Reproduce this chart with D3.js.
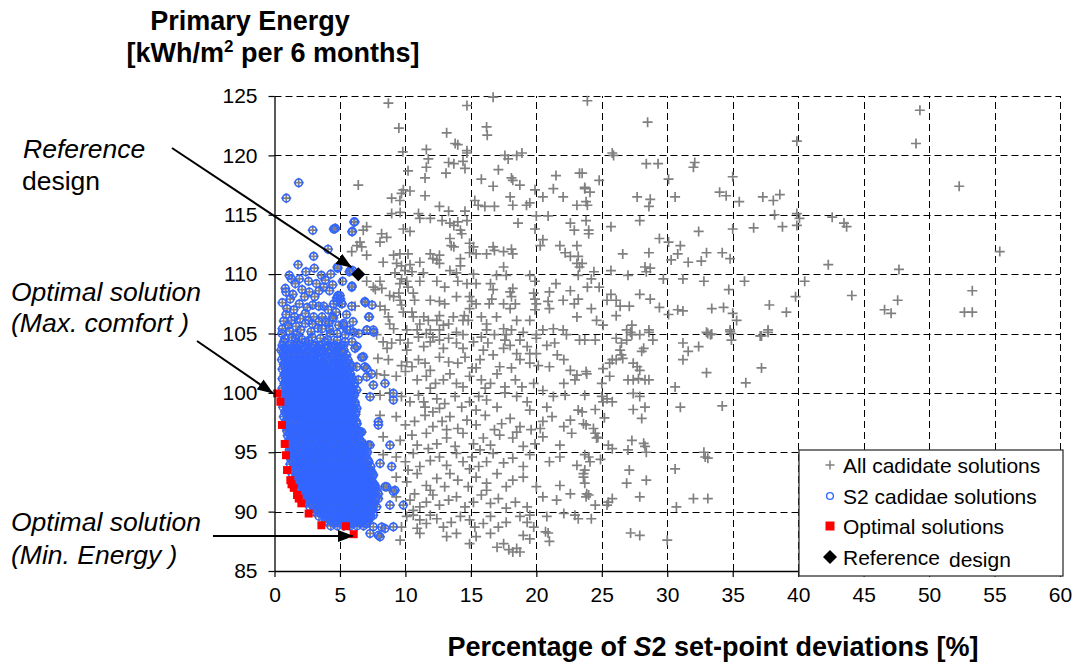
<!DOCTYPE html>
<html>
<head>
<meta charset="utf-8">
<script src="https://cdn.jsdelivr.net/npm/d3@7"></script>
<style>
  body { margin: 0; background: #fff; }
  svg { display: block; font-family: "Liberation Sans", Arial, sans-serif; }
</style>
</head>
<body>
<div id="chart"></div>
<script>
// axis ticks
var xTicks = [0, 5, 10, 15, 20, 25, 30, 35, 40, 45, 50, 55, 60];
var yTicks = [85, 90, 95, 100, 105, 110, 115, 120, 125];

// all candidate solutions (grey crosses), [deviation %, energy]
var allCandidates = [
  // upper part, 4..24 %
  [8.7,124.4],[16.7,124.9],[14.7,124.2],[9.5,122.3],[16.2,122.4],[16.25,121.7],[13.15,121.9],[13.8,121.0],[14.0,120.9],
  [14.7,120.4],[14.7,120.2],[11.6,120.5],[9.8,120.3],[17.6,120.0],[17.85,119.7],[18.5,120.0],[18.9,120.2],[11.75,119.7],
  [11.6,119.0],[13.3,119.4],[13.7,119.3],[14.4,119.5],[14.55,118.9],[10.2,118.7],[13.1,118.5],[17.1,118.8],[23.3,118.5],
  [21.5,118.3],[18.1,118.1],[18.2,117.9],[11.5,118.1],[15.8,118.0],[16.7,117.4],[6.4,117.5],[18.74,117.5],[19.9,117.1],
  [21.3,117.2],[23.7,117.2],[24.1,116.9],[9.84,117.1],[10.35,117.0],[9.7,116.8],[11.5,116.6],[8.95,116.4],[9.58,116.2],
  [15.3,116.2],[15.56,115.8],[16.07,115.7],[18.0,116.5],[18.2,115.8],[19.5,116.0],[20.5,116.5],[22.05,116.5],[23.1,115.8],
  [12.6,115.7],[19.25,115.8],[16.8,115.7],[13.3,115.3],[14.55,115.3],[8.95,115.1],[9.6,115.2],[11.0,115.1],[11.1,114.7],
  [11.9,114.7],[12.8,114.5],[13.4,114.3],[14.0,114.4],[13.7,114.1],[14.7,114.5],[18.6,114.3],[20.0,114.9],[20.9,114.9],
  [22.6,114.3],[22.9,113.7],[23.8,114.5],[24.0,113.7],[7.04,114.0],[6.78,113.7],[8.18,113.4],[8.57,113.1],[9.84,113.8],
  [10.35,113.6],[14.2,113.7],[14.3,113.4],[19.9,113.8],[13.4,113.0],[13.5,112.4],[13.7,112.3],[6.53,112.7],[6.3,112.4],
  [6.66,112.3],[8.06,112.7],[14.9,112.6],[15.2,112.3],[16.7,112.3],[16.8,112.0],[17.5,111.9],[18.1,112.1],[18.2,111.7],
  [20.3,112.4],[20.5,112.9],[21.8,112.4],[23.1,112.4],[23.2,111.5],[22.2,111.8],[22.6,111.5],[5.9,111.9],[7.04,111.6],
  [9.1,111.6],[9.58,111.7],[10.2,111.7],[11.9,111.7],[12.6,111.6],[12.1,111.3],[14.2,111.3],[14.9,111.8],[15.4,111.7],
  [16.2,111.7],[8.3,111.0],[9.33,110.9],[9.7,110.7],[9.96,110.3],[10.35,110.8],[10.5,110.2],[11.1,111.0],[12.6,110.9],
  [12.4,111.2],[14.2,110.7],[23.1,110.9],[23.3,110.6],[11.37,110.1],[13.4,110.3],[13.9,110.1],[15.2,110.0],[15.4,109.2],
  [16.96,109.9],[17.5,110.6],[17.7,109.9],[19.5,109.9],[19.9,109.4],[21.5,109.2],[23.2,109.9],[7.04,109.4],[7.55,108.9],
  [8.06,109.4],[8.2,108.8],[9.2,110.1],[9.7,109.6],[9.58,109.2],[10.1,109.4],[10.2,108.9],[11.1,109.4],[12.4,109.4],
  [13.0,108.9],[14.0,109.4],[14.7,109.2],[16.5,109.2],[16.7,108.7],[18.0,108.5],[18.2,108.8],[18.1,108.1],[19.8,108.4],
  [19.9,107.9],[21.0,108.5],[22.6,108.6],[7.7,108.7],[8.8,108.2],[9.1,108.1],[9.5,108.4],[9.6,107.8],[10.6,108.4],
  [10.7,107.8],[11.9,107.8],[12.6,107.7],[13.0,107.5],[13.9,108.1],[14.9,108.1],[15.06,107.7],[15.4,107.5],[14.9,107.1],
  [14.5,106.5],[14.4,106.1],[14.8,106.1],[16.6,107.9],[16.4,107.5],[17.5,107.5],[18.0,107.1],[18.4,107.5],[20.0,107.5],
  [19.9,107.0],[20.9,107.7],[21.0,107.1],[22.05,107.8],[22.9,107.5],[23.2,107.9],[6.15,107.3],[8.06,107.3],[8.44,107.0],
  [8.7,106.4],[9.7,107.4],[9.84,106.8],[10.5,106.8],[10.6,106.4],[11.4,106.4],[11.75,106.1],[11.1,105.8],[12.6,106.5],
  [12.4,106.1],[12.9,105.7],[13.3,105.8],[13.66,106.4],[15.8,106.4],[16.2,105.8],[16.96,106.4],[18.5,106.1],[19.5,106.1],
  [21.3,105.4],[22.05,105.3],[23.1,106.4],[8.8,105.8],[9.1,105.4],[10.1,105.3],[10.9,105.3],[11.9,105.3],[12.6,105.3],
  [12.1,104.7],[17.5,105.4],[17.7,104.9],[18.1,105.3],[19.0,105.1],[20.0,104.9],[20.5,105.3],[16.2,105.3],[13.9,105.1],
  // upper part, 23..43 %
  [23.9,124.6],[28.5,122.8],[39.9,121.2],[25.8,120.2],[25.9,120.0],[28.4,119.3],[29.3,119.3],[32.1,119.4],[32.0,119.0],
  [23.5,118.5],[24.8,117.9],[30.1,118.0],[35.0,118.2],[23.7,117.3],[27.7,116.5],[28.7,116.3],[28.6,115.7],[30.6,116.5],
  [34.0,116.9],[34.5,116.6],[35.5,116.1],[37.3,116.5],[38.1,116.2],[38.6,116.7],[23.8,116.1],[23.9,115.8],[38.2,115.0],
  [39.9,115.1],[40.1,114.7],[39.9,114.1],[38.8,114.0],[36.6,113.9],[35.0,113.8],[32.4,113.6],[25.7,114.0],[27.9,114.5],
  [24.0,113.4],[29.4,113.0],[30.1,112.7],[31.0,112.4],[30.8,111.7],[26.6,111.7],[28.6,111.8],[30.3,111.2],[31.6,111.0],
  [32.6,111.1],[33.0,111.8],[34.2,111.8],[34.8,111.3],[42.3,110.8],[23.5,110.9],[24.4,110.2],[24.2,109.6],[25.7,110.3],
  [27.0,109.9],[28.3,110.6],[28.7,110.5],[28.4,110.2],[29.7,109.6],[31.2,109.6],[32.8,109.4],[35.9,109.4],[34.7,108.7],
  [40.5,109.4],[39.8,108.1],[23.9,108.9],[24.8,108.9],[25.7,108.3],[25.4,107.8],[26.1,107.8],[27.9,108.3],[28.7,107.9],
  [26.4,107.3],[27.1,107.3],[29.4,107.2],[24.2,107.1],[30.1,106.6],[30.8,107.0],[31.2,106.9],[33.4,107.1],[34.3,107.2],
  [35.0,106.7],[35.3,106.1],[37.8,107.4],[39.1,106.8],[26.1,106.5],[24.6,106.1],[25.1,105.7],[27.3,105.7],[26.9,105.3],
  [28.6,105.3],[33.0,105.1],[33.3,104.9],[34.8,105.3],[34.9,105.0],[37.7,105.3],[37.1,104.8],
  // upper part, beyond 42 %
  [49.3,123.8],[49.0,121.0],[52.3,117.4],[42.6,114.8],[43.5,114.3],[43.7,114.0],[55.4,111.9],[47.7,110.4],[44.1,108.2],
  [47.6,107.8],[46.6,107.0],[47.1,106.7],[53.3,108.6],[52.7,106.8],[53.3,106.8],
  // lower part, 4..24 %
  [7.8,104.9],[8.3,104.3],[8.95,104.2],[9.6,104.45],[10.2,104.2],[11.0,104.7],[11.6,105.0],[11.9,104.3],[12.6,104.45],
  [13.3,104.6],[13.9,104.2],[14.4,104.9],[15.2,104.3],[15.8,104.7],[16.3,104.2],[16.8,104.9],[17.6,104.45],[18.0,104.0],
  [18.75,104.45],[19.3,103.9],[20.0,104.6],[20.8,104.0],[21.4,104.2],[22.3,104.9],[23.3,104.45],[20.0,103.3],[19.5,103.3],
  [21.6,103.2],[22.1,102.8],[17.5,103.75],[15.95,103.6],[14.4,103.75],[12.9,103.75],[11.4,103.9],[10.1,103.6],[8.6,103.75],
  [7.9,102.9],[8.7,102.8],[9.7,102.3],[10.1,102.6],[10.5,102.2],[11.0,102.8],[11.5,102.5],[11.9,101.9],[12.6,103.0],
  [13.3,102.6],[14.0,102.5],[14.55,103.0],[15.1,102.1],[15.7,102.8],[16.7,103.2],[17.2,102.2],[18.1,102.1],[18.75,102.8],
  [19.5,102.5],[20.15,102.3],[21.0,102.2],[22.6,101.9],[23.1,101.5],[23.8,101.8],[15.4,102.1],[18.5,103.3],
  [7.8,101.6],[8.4,101.5],[9.3,101.4],[10.0,101.8],[10.9,101.1],[11.6,101.4],[12.3,100.8],[12.9,101.1],[13.4,101.6],
  [13.9,100.8],[14.4,100.5],[14.9,101.4],[15.8,101.1],[16.5,100.8],[17.0,101.6],[17.6,100.5],[18.4,101.1],[18.9,100.5],
  [19.8,100.8],[20.5,100.2],[22.1,100.8],[22.95,101.1],[16.1,100.4],[11.9,100.4],
  [8.06,99.8],[8.8,100.0],[9.7,99.7],[10.35,99.25],[11.0,99.8],[11.5,98.8],[12.4,99.5],[13.0,99.1],[13.8,99.7],
  [14.3,98.8],[14.9,99.25],[15.6,99.7],[16.2,99.4],[17.0,98.8],[17.6,100.0],[18.5,99.7],[19.3,99.25],[19.5,98.55],
  [20.8,98.8],[21.3,99.7],[22.2,99.8],[23.2,98.55],[11.4,99.25],[12.6,98.7],[15.4,98.55],
  [8.06,98.1],[9.3,98.0],[10.0,97.3],[10.7,97.6],[11.5,98.1],[12.1,97.15],[12.8,97.6],[13.4,98.0],[14.0,97.0],
  [14.7,97.7],[15.4,97.3],[16.1,98.1],[16.8,96.9],[17.35,97.4],[18.0,97.85],[18.75,97.15],[19.6,96.9],[20.5,97.6],
  [21.2,98.0],[22.1,97.15],[22.6,97.7],[23.8,97.3],[12.1,98.4],[13.15,96.9],[20.3,97.0],
  [8.3,96.3],[9.6,96.0],[10.5,96.45],[10.9,95.6],[11.6,96.6],[12.4,95.7],[13.15,96.2],[13.8,95.5],[14.4,96.6],
  [15.2,95.7],[15.95,96.2],[16.5,95.6],[17.2,96.45],[18.2,96.2],[19.0,95.5],[19.9,95.7],[20.5,96.3],[21.8,95.6],
  [22.7,96.6],[11.75,95.3],[15.7,95.2],[18.5,96.7],
  [8.3,94.8],[9.3,94.6],[10.0,94.2],[10.6,94.9],[11.1,93.8],[11.9,94.3],[12.6,94.6],[13.15,93.9],[13.9,94.9],
  [14.4,94.2],[15.1,94.6],[15.6,93.8],[16.2,94.2],[16.7,94.9],[17.5,94.1],[18.2,94.5],[19.0,93.8],[19.5,94.8],
  [21.0,94.2],[21.8,94.6],[23.1,93.9],[23.7,93.5],[10.2,93.5],[14.9,93.6],
  [9.3,92.9],[10.1,92.5],[10.9,93.2],[11.6,92.2],[12.4,92.8],[13.0,92.1],[13.4,93.2],[14.0,92.65],[14.8,92.1],
  [15.4,92.9],[16.2,92.4],[17.0,93.2],[17.7,92.1],[18.2,92.65],[19.0,92.9],[20.0,92.1],[21.8,92.2],[23.6,92.9],
  [11.9,91.8],[16.2,91.8],
  [9.3,91.25],[10.35,90.97],[10.7,91.5],[11.1,90.4],[11.6,90.8],[12.1,91.4],[12.6,90.55],[13.3,90.97],[13.9,91.25],
  [14.55,90.4],[15.2,90.8],[15.8,91.4],[16.5,90.7],[17.1,91.1],[17.7,90.3],[18.4,90.8],[19.3,90.4],[20.5,91.25],
  [21.55,90.97],[22.6,91.5],[23.8,91.25],[10.6,90.1],
  [10.1,89.6],[10.6,89.7],[11.1,89.3],[11.6,89.0],[11.9,89.7],[12.4,89.4],[12.9,88.7],[13.5,89.1],[14.2,89.6],
  [14.9,89.3],[15.3,88.7],[15.95,89.0],[16.5,89.6],[17.1,88.7],[17.7,89.1],[18.75,89.6],[19.3,89.1],[19.8,88.7],
  [20.8,89.6],[22.1,89.85],[22.95,89.7],[23.2,89.4],[19.5,89.7],[9.7,88.7],[10.9,88.6],
  [9.6,87.6],[11.1,88.16],[13.15,87.9],[13.9,88.16],[14.9,87.3],[15.4,87.9],[16.5,88.16],[17.0,87.0],[17.5,87.3],
  [17.9,86.8],[18.2,86.6],[18.5,86.9],[18.75,86.6],[19.5,87.7],[20.7,88.3],[20.9,88.2],[21.0,87.5],[19.0,88.0],
  // lower part, 23..43 %
  [23.7,104.45],[24.5,104.45],[26.1,104.6],[26.5,104.2],[26.9,104.45],[27.3,104.9],[27.9,104.9],[28.6,105.1],[27.2,105.1],
  [26.4,103.6],[26.5,103.2],[26.6,102.9],[26.1,102.8],[25.8,102.8],[25.6,102.5],[28.05,103.5],[28.2,103.75],[28.9,104.45],
  [27.4,102.5],[27.7,102.2],[27.9,101.9],[25.1,102.05],[25.0,100.8],[25.6,101.4],[23.85,101.6],[27.0,101.1],[27.4,101.1],
  [27.8,101.2],[28.3,101.1],[28.6,101.1],[31.2,104.2],[31.6,103.5],[32.4,103.9],[31.2,102.8],[33.0,101.7],[33.1,105.0],
  [33.4,104.95],[34.8,105.15],[34.9,104.45],[37.2,104.8],[37.7,105.1],[37.2,102.1],[36.0,100.85],[30.6,100.5],
  [23.7,99.8],[25.0,99.7],[25.4,99.5],[25.8,99.25],[25.1,99.25],[27.4,99.95],[27.9,99.7],[24.5,98.6],[23.5,98.4],
  [27.4,98.6],[28.3,98.8],[31.0,98.8],[34.2,98.9],[25.2,97.9],[28.05,97.85],[23.6,97.4],[24.36,97.0],[24.5,96.6],
  [24.7,96.25],[24.6,96.2],[27.3,96.0],[28.2,95.75],[28.3,95.5],[25.5,95.6],[25.8,95.3],[27.0,95.2],[28.4,95.0],
  [23.7,94.8],[24.1,94.2],[24.0,94.6],[24.9,94.4],[32.8,95.0],[32.9,94.6],[33.1,94.5],[27.1,93.5],[30.6,93.6],
  [28.4,92.65],[26.9,92.4],[23.6,93.2],[23.7,92.4],[23.85,91.5],[24.0,91.4],[25.8,91.1],[25.5,90.8],[25.4,90.55],
  [24.5,90.55],[27.9,91.25],[30.7,90.4],[32.0,91.1],[33.1,91.1],[24.2,89.4],[27.2,88.2],[27.9,88.0],[30.0,87.6]
];

// S2 candidate solutions (blue circles), the loose ones round the cluster
var s2Candidates = [
  [1.85,117.7],[0.9,116.4],[2.92,113.7],[4.65,113.85],[4.52,113.8],[6.13,114.4],[5.92,113.57],[4.09,112.1],[2.99,111.5],
  [1.8,110.8],[3.04,110.5],[4.83,110.5],[5.8,110.3],[5.97,110.3],[1.13,109.9],[1.29,109.6],[1.9,109.6],[1.59,109.2],
  [3.58,109.9],[3.88,109.5],[4.44,109.1],[3.76,108.9],[0.83,108.8],[0.88,108.5],[2.1,108.7],[2.66,108.5],[2.3,108.1],
  [5.92,109.0],[4.85,108.2],[5.03,107.9],[4.78,107.7],[4.52,107.5],[5.16,107.5],[3.07,108.1],[3.38,107.3],[2.92,107.4],
  [3.76,107.3],[6.94,107.6],[7.45,107.4],[0.96,107.1],[1.47,107.0],[0.88,106.6],[1.54,106.4],[1.03,105.7],[1.64,105.6],
  [2.36,106.7],[2.61,106.1],[2.99,106.4],[2.36,105.85],[3.63,106.4],[3.38,106.0],[4.44,106.4],[4.14,105.85],[3.63,105.4],
  [7.2,106.4],[4.9,105.7],[5.28,105.85],[5.54,105.3],[6.05,105.1],[6.43,105.0],[5.41,104.9],[4.78,105.0],[7.07,105.3],
  [7.58,105.1],[0.57,105.0],[0.7,104.3],[1.34,104.7],[1.72,104.2],[2.36,104.3],[2.87,104.7],[3.12,104.0],[3.88,104.3],
  [4.27,105.0],[4.39,103.9],[5.92,104.3],[6.3,103.9],[5.28,104.0],[4.62,113.85],[6.07,114.4],[5.95,113.6],[4.8,110.6],
  [5.72,110.2],[5.9,108.9],[5.0,108.2],[4.75,108.0],[5.13,107.5],[6.9,107.7],[7.24,106.4],[7.04,105.3],[7.55,105.3],
  [4.5,106.3],[5.26,105.7],[5.77,105.3],
  [0.8,104.55],[1.6,104.6],[2.1,104.5],[2.6,104.4],[3.5,104.6],[4.05,104.5],[4.8,104.45],[0.6,105.4],[1.15,105.2],
  [2.0,105.3],[2.8,105.15],[3.3,105.45],[4.2,105.4],[0.7,106.05],[1.3,106.1],[1.95,106.25],[2.9,105.8],[3.9,106.0],
  [4.7,106.8],[0.6,107.6],[1.2,107.9],[1.9,107.5],[2.5,107.2],[4.1,107.0],[5.5,106.6],[6.0,106.0],[5.9,107.3],
  [1.4,108.3],[3.4,108.6],[4.2,108.6],[2.6,109.4],[3.2,109.2],[4.3,110.0],[2.4,110.2],[5.2,109.4],[1.7,104.9],
  // right hand edge and tail of the cluster
  [5.4,104.3],[6.15,103.75],[6.66,103.0],[6.28,102.2],[6.9,102.2],[7.04,101.36],[6.4,101.1],[7.55,100.66],[8.44,100.8],
  [9.08,99.96],[9.08,99.4],[7.3,99.67],[6.28,100.24],[6.28,98.7],[7.93,97.57],[7.93,97.3],[6.0,96.7],[6.66,96.7],
  [5.26,96.3],[7.17,95.6],[8.82,95.6],[8.06,94.06],[8.95,93.8],[7.55,93.1],[8.44,92.1],[9.2,91.8],[7.93,91.1],
  [8.82,90.55],[9.84,90.55],[7.3,88.16],[8.06,87.88],[8.44,88.58],[9.08,88.72],[7.55,88.72],[6.8,93.5],[7.04,92.1],
  [7.68,92.2],[7.93,91.5],[6.66,91.25],[7.04,90.4],[7.55,89.7],[7.93,88.0],[8.19,88.7],[7.04,89.0],[5.9,89.0],[6.4,89.3],
  [7.04,102.06],[7.42,101.6],[6.79,103.04],[6.53,96.7],[6.28,96.86],[7.3,95.6],[8.57,92.1],[9.08,91.7]
];

// the packed S2 cluster, read row by row: [energy, [deviations]]
var s2Cluster = [
  [104.0, [0.6, 1.05, 1.5, 1.9, 2.5, 3.0, 3.45, 4.1, 4.6, 5.1]],
  [103.8, [0.75, 1.25, 1.7, 2.3, 2.8, 3.3, 3.8, 4.4, 4.9]],
  [103.6, [0.5, 0.85, 1.3, 1.7, 2.15, 2.6, 3.2, 3.6, 4.3, 4.8, 5.3]],
  [103.4, [0.65, 1.05, 1.5, 1.95, 2.4, 2.9, 3.4, 3.75, 4.1, 4.7, 5.2]],
  [103.2, [0.7, 1.1, 1.45, 1.9, 2.3, 2.75, 3.1, 3.9, 4.5, 4.9, 5.5]],
  [103.0, [0.75, 1.1, 1.5, 1.85, 2.25, 2.65, 3.05, 3.5, 3.95, 4.4, 4.85, 5.35]],
  [102.8, [0.55, 0.9, 1.3, 1.65, 2.05, 2.45, 2.9, 3.3, 4.2, 4.65, 5.1, 5.6]],
  [102.6, [0.85, 1.2, 1.6, 2.0, 2.4, 2.8, 3.2, 3.65, 4.05, 4.6, 5.05, 5.5]],
  [102.4, [0.7, 1.05, 1.4, 1.8, 2.2, 2.6, 3.0, 3.45, 3.85, 4.4, 4.85, 5.3, 5.8]],
  [102.2, [0.8, 1.15, 1.5, 1.85, 2.2, 2.6, 3.0, 3.4, 3.8, 4.2, 4.6, 5.0, 5.45, 5.9]],
  [102.0, [0.6, 0.95, 1.3, 1.65, 2.0, 2.4, 2.8, 3.2, 3.6, 4.0, 4.4, 4.8, 5.2, 5.65]],
  [101.8, [0.9, 1.25, 1.6, 1.95, 2.35, 2.75, 3.15, 3.55, 3.95, 4.35, 4.75, 5.15, 5.6]],
  [101.6, [0.75, 1.1, 1.45, 1.8, 2.15, 2.55, 2.95, 3.35, 3.75, 4.15, 4.55, 4.95, 5.35, 5.8]],
  [101.4, [0.8, 1.15, 1.5, 1.85, 2.2, 2.55, 2.95, 3.35, 3.75, 4.15, 4.55, 4.95, 5.35, 5.75]],
  [101.2, [0.6, 0.95, 1.3, 1.65, 2.0, 2.35, 2.75, 3.1, 3.5, 3.9, 4.3, 4.7, 5.1, 5.5, 5.95]],
  [101.0, [0.9, 1.25, 1.6, 2.0, 2.35, 2.7, 3.1, 3.5, 3.9, 4.3, 4.7, 5.1, 5.5, 5.9]],
  [100.8, [0.75, 1.1, 1.45, 1.8, 2.2, 2.55, 2.9, 3.3, 3.7, 4.1, 4.5, 4.9, 5.3, 5.7, 6.1]],
  [100.6, [0.8, 1.15, 1.5, 1.85, 2.2, 2.6, 2.95, 3.3, 3.7, 4.1, 4.5, 4.9, 5.3, 5.7, 6.05]],
  [100.4, [0.6, 0.95, 1.3, 1.65, 2.0, 2.4, 2.75, 3.1, 3.5, 3.9, 4.3, 4.7, 5.1, 5.5, 5.9]],
  [100.2, [0.9, 1.25, 1.6, 2.0, 2.35, 2.75, 3.1, 3.5, 3.9, 4.3, 4.7, 5.1, 5.5, 5.9]],
  [100.0, [0.75, 1.1, 1.45, 1.85, 2.2, 2.55, 2.95, 3.3, 3.7, 4.1, 4.5, 4.9, 5.3, 5.7, 6.1]],
  [99.8, [0.85, 1.2, 1.55, 1.9, 2.25, 2.6, 3.0, 3.35, 3.75, 4.15, 4.55, 4.95, 5.35, 5.75, 6.1]],
  [99.6, [0.65, 1.0, 1.35, 1.7, 2.05, 2.4, 2.8, 3.15, 3.55, 3.95, 4.35, 4.75, 5.15, 5.55, 5.95]],
  [99.4, [0.95, 1.3, 1.65, 2.0, 2.4, 2.75, 3.15, 3.55, 3.95, 4.35, 4.75, 5.15, 5.55, 5.95]],
  [99.2, [0.8, 1.15, 1.5, 1.85, 2.2, 2.6, 2.95, 3.35, 3.75, 4.15, 4.55, 4.95, 5.35, 5.75, 6.15]],
  [99.0, [0.85, 1.2, 1.55, 1.9, 2.25, 2.6, 3.0, 3.4, 3.8, 4.2, 4.6, 5.0, 5.4, 5.8, 6.15]],
  [98.8, [0.65, 1.0, 1.35, 1.7, 2.05, 2.45, 2.8, 3.2, 3.6, 4.0, 4.4, 4.8, 5.2, 5.6, 6.0]],
  [98.6, [0.95, 1.3, 1.7, 2.05, 2.45, 2.8, 3.2, 3.6, 4.0, 4.4, 4.8, 5.2, 5.6, 6.0]],
  [98.4, [0.8, 1.15, 1.5, 1.9, 2.25, 2.6, 3.0, 3.4, 3.8, 4.2, 4.6, 5.0, 5.4, 5.8, 6.2]],
  [98.2, [0.9, 1.25, 1.6, 1.95, 2.3, 2.65, 3.05, 3.45, 3.85, 4.25, 4.65, 5.05, 5.45, 5.85, 6.2]],
  [98.0, [0.7, 1.05, 1.4, 1.75, 2.1, 2.45, 2.85, 3.25, 3.65, 4.05, 4.45, 4.85, 5.25, 5.65, 6.05]],
  [97.8, [1.0, 1.35, 1.75, 2.1, 2.5, 2.85, 3.25, 3.65, 4.05, 4.45, 4.85, 5.25, 5.65, 6.05]],
  [97.6, [0.85, 1.2, 1.55, 1.9, 2.3, 2.65, 3.05, 3.45, 3.85, 4.25, 4.65, 5.05, 5.45, 5.85, 6.25]],
  [97.4, [1.0, 1.35, 1.7, 2.05, 2.4, 2.75, 3.15, 3.55, 3.95, 4.35, 4.75, 5.15, 5.55, 5.95, 6.3]],
  [97.2, [0.8, 1.15, 1.5, 1.85, 2.2, 2.55, 2.95, 3.35, 3.75, 4.15, 4.55, 4.95, 5.35, 5.75, 6.15]],
  [97.0, [1.1, 1.45, 1.85, 2.2, 2.6, 2.95, 3.35, 3.75, 4.15, 4.55, 4.95, 5.35, 5.75, 6.15]],
  [96.8, [0.95, 1.3, 1.65, 2.0, 2.4, 2.75, 3.15, 3.55, 3.95, 4.35, 4.75, 5.15, 5.55, 5.95, 6.35]],
  [96.6, [1.15, 1.5, 1.85, 2.25, 2.6, 3.0, 3.4, 3.8, 4.2, 4.6, 5.0, 5.4, 5.8, 6.2, 6.5]],
  [96.4, [1.0, 1.35, 1.7, 2.05, 2.4, 2.8, 3.2, 3.6, 4.0, 4.4, 4.8, 5.2, 5.6, 6.0, 6.4]],
  [96.2, [1.25, 1.6, 1.95, 2.35, 2.75, 3.15, 3.55, 3.95, 4.35, 4.75, 5.15, 5.55, 5.95, 6.35]],
  [96.0, [1.1, 1.45, 1.8, 2.15, 2.55, 2.95, 3.35, 3.75, 4.15, 4.55, 4.95, 5.35, 5.75, 6.15, 6.55]],
  [95.8, [1.2, 1.6, 1.95, 2.3, 2.7, 3.1, 3.5, 3.9, 4.3, 4.7, 5.1, 5.5, 5.9, 6.3, 6.7]],
  [95.6, [1.05, 1.4, 1.75, 2.1, 2.5, 2.9, 3.3, 3.7, 4.1, 4.5, 4.9, 5.3, 5.7, 6.1, 6.5, 6.85]],
  [95.4, [1.3, 1.65, 2.05, 2.4, 2.8, 3.2, 3.6, 4.0, 4.4, 4.8, 5.2, 5.6, 6.0, 6.4, 6.8]],
  [95.2, [1.15, 1.5, 1.85, 2.2, 2.6, 3.0, 3.4, 3.8, 4.2, 4.6, 5.0, 5.4, 5.8, 6.2, 6.6, 6.95]],
  [95.0, [1.3, 1.65, 2.0, 2.35, 2.75, 3.15, 3.55, 3.95, 4.35, 4.75, 5.15, 5.55, 5.95, 6.35, 6.75, 7.1]],
  [94.8, [1.1, 1.45, 1.8, 2.15, 2.55, 2.95, 3.35, 3.75, 4.15, 4.55, 4.95, 5.35, 5.75, 6.15, 6.55, 6.95]],
  [94.6, [1.4, 1.8, 2.15, 2.5, 2.9, 3.3, 3.7, 4.1, 4.5, 4.9, 5.3, 5.7, 6.1, 6.5, 6.9]],
  [94.4, [1.25, 1.6, 1.95, 2.3, 2.7, 3.1, 3.5, 3.9, 4.3, 4.7, 5.1, 5.5, 5.9, 6.3, 6.7, 7.1]],
  [94.2, [1.4, 1.75, 2.1, 2.45, 2.85, 3.25, 3.65, 4.05, 4.45, 4.85, 5.25, 5.65, 6.05, 6.45, 6.85, 7.2]],
  [94.0, [1.2, 1.55, 1.9, 2.25, 2.65, 3.05, 3.45, 3.85, 4.25, 4.65, 5.05, 5.45, 5.85, 6.25, 6.65, 7.05]],
  [93.8, [1.5, 1.85, 2.25, 2.6, 3.0, 3.4, 3.8, 4.2, 4.6, 5.0, 5.4, 5.8, 6.2, 6.6, 7.0, 7.35]],
  [93.6, [1.35, 1.7, 2.05, 2.4, 2.8, 3.2, 3.6, 4.0, 4.4, 4.8, 5.2, 5.6, 6.0, 6.4, 6.8, 7.2]],
  [93.4, [1.55, 1.9, 2.25, 2.65, 3.05, 3.45, 3.85, 4.25, 4.65, 5.05, 5.45, 5.85, 6.25, 6.65, 7.05, 7.4]],
  [93.2, [1.35, 1.7, 2.05, 2.45, 2.85, 3.25, 3.65, 4.05, 4.45, 4.85, 5.25, 5.65, 6.05, 6.45, 6.85, 7.25]],
  [93.0, [1.7, 2.05, 2.45, 2.8, 3.2, 3.6, 4.0, 4.4, 4.8, 5.2, 5.6, 6.0, 6.4, 6.8, 7.2, 7.5]],
  [92.8, [1.55, 1.9, 2.25, 2.6, 3.0, 3.4, 3.8, 4.2, 4.6, 5.0, 5.4, 5.8, 6.2, 6.6, 7.0, 7.4]],
  [92.6, [1.85, 2.2, 2.6, 3.0, 3.4, 3.8, 4.2, 4.6, 5.0, 5.4, 5.8, 6.2, 6.6, 7.0, 7.4]],
  [92.4, [1.7, 2.05, 2.4, 2.8, 3.2, 3.6, 4.0, 4.4, 4.8, 5.2, 5.6, 6.0, 6.4, 6.8, 7.2, 7.55]],
  [92.2, [2.05, 2.4, 2.8, 3.2, 3.6, 4.0, 4.4, 4.8, 5.2, 5.6, 6.0, 6.4, 6.8, 7.2, 7.55]],
  [92.0, [1.9, 2.25, 2.6, 3.0, 3.4, 3.8, 4.2, 4.6, 5.0, 5.4, 5.8, 6.2, 6.6, 7.0, 7.4, 7.7]],
  [91.8, [2.2, 2.6, 3.0, 3.4, 3.8, 4.2, 4.6, 5.0, 5.4, 5.8, 6.2, 6.6, 7.0, 7.4, 7.8]],
  [91.6, [2.05, 2.4, 2.8, 3.2, 3.6, 4.0, 4.4, 4.8, 5.2, 5.6, 6.0, 6.4, 6.8, 7.2, 7.6]],
  [91.4, [2.4, 2.75, 3.15, 3.55, 3.95, 4.35, 4.75, 5.15, 5.55, 5.95, 6.35, 6.75, 7.15, 7.55]],
  [91.2, [2.2, 2.55, 2.95, 3.35, 3.75, 4.15, 4.55, 4.95, 5.35, 5.75, 6.15, 6.55, 6.95, 7.35, 7.75]],
  [91.0, [2.55, 2.95, 3.35, 3.75, 4.15, 4.55, 4.95, 5.35, 5.75, 6.15, 6.55, 6.95, 7.35, 7.7]],
  [90.8, [2.4, 2.75, 3.15, 3.55, 3.95, 4.35, 4.75, 5.15, 5.55, 5.95, 6.35, 6.75, 7.15, 7.55]],
  [90.6, [2.85, 3.25, 3.65, 4.05, 4.45, 4.85, 5.25, 5.65, 6.05, 6.45, 6.85, 7.25, 7.6]],
  [90.4, [2.7, 3.05, 3.45, 3.85, 4.25, 4.65, 5.05, 5.45, 5.85, 6.25, 6.65, 7.05, 7.45, 7.8]],
  [90.2, [3.2, 3.55, 3.95, 4.35, 4.75, 5.15, 5.55, 5.95, 6.35, 6.75, 7.15, 7.5]],
  [90.0, [3.0, 3.35, 3.75, 4.15, 4.55, 4.95, 5.35, 5.75, 6.15, 6.55, 6.95, 7.35]],
  [89.8, [3.6, 4.0, 4.4, 4.8, 5.2, 5.6, 6.0, 6.4, 6.8, 7.2]],
  [89.6, [3.4, 3.8, 4.2, 4.6, 5.0, 5.4, 5.8, 6.2, 6.6, 7.0, 7.35]],
  [89.4, [4.1, 4.5, 4.9, 5.3, 5.7, 6.1, 6.5, 6.9, 7.25]],
  [89.2, [3.9, 4.3, 4.7, 5.1, 5.5, 5.9, 6.3, 6.7, 7.1]],
  [89.0, [4.55, 5.05, 5.55, 6.05, 6.55, 7.0]],
  [88.8, [4.3, 4.8, 5.3, 5.8, 6.3, 6.8]]
];

// optimal (Pareto) solutions, red squares
var optimal = [
  [0.2,99.95],[0.45,99.25],[0.57,97.3],[0.78,95.7],[0.88,94.75],[0.96,93.5],[1.21,92.65],[1.3,92.3],[1.47,92.0],
  [1.72,91.4],[1.85,91.1],[2.05,90.7],[2.61,89.84],[3.58,88.85],[5.46,88.77],[6.05,88.1]
];

// reference design, black diamond
var reference = [[6.4, 110.0]];

var legendLabels = ["All cadidate solutions", "S2 cadidae solutions", "Optimal solutions", "Reference"];

// ------------------------------------------------------------
var width = 1074, height = 666;
var font = '"Liberation Sans", Arial, sans-serif';

var x = d3.scaleLinear().domain([0, 60]).range([274.5, 1060]);
var y = d3.scaleLinear().domain([85, 125]).range([571, 96]);

var svg = d3.select("#chart").append("svg")
    .attr("width", width)
    .attr("height", height);

var defs = svg.append("defs");
defs.append("marker")
    .attr("id", "head")
    .attr("markerUnits", "userSpaceOnUse")
    .attr("markerWidth", 16).attr("markerHeight", 12)
    .attr("refX", 15).attr("refY", 6)
    .attr("orient", "auto")
    .append("path")
    .attr("d", "M0,0L16,6L0,12Z")
    .attr("fill", "#000");

// dashed grid
var grid = svg.append("g").attr("class", "grid")
    .attr("stroke", "#000").attr("stroke-width", 1).attr("stroke-dasharray", "7,4");

grid.selectAll("line.h")
    .data(yTicks.slice(1))
    .enter().append("line")
    .attr("class", "h")
    .attr("x1", x(0)).attr("x2", x(60))
    .attr("y1", function(d){ return Math.round(y(d)) + 0.5; })
    .attr("y2", function(d){ return Math.round(y(d)) + 0.5; });

grid.selectAll("line.v")
    .data(xTicks.slice(1))
    .enter().append("line")
    .attr("class", "v")
    .attr("y1", y(85)).attr("y2", y(125))
    .attr("x1", function(d){ return Math.round(x(d)) + 0.5; })
    .attr("x2", function(d){ return Math.round(x(d)) + 0.5; });

// flatten the cluster rows into points
var clusterPoints = [];
s2Cluster.forEach(function(row){
    row[1].forEach(function(v){ clusterPoints.push([v, row[0]]); });
});
var s2All = s2Candidates.concat(clusterPoints);

// every S2 candidate is also a candidate, so it gets a cross too
var crossPath = "M-5,0H5M0,-5V5";
svg.append("g")
    .attr("stroke", "#808080").attr("stroke-width", 1.7).attr("fill", "none")
    .selectAll("path")
    .data(allCandidates.concat(s2All))
    .enter().append("path")
    .attr("d", crossPath)
    .attr("transform", function(d){ return "translate(" + x(d[0]) + "," + y(d[1]) + ")"; });

svg.append("g")
    .attr("stroke", "#3366ff").attr("stroke-width", 1.7).attr("fill", "none")
    .selectAll("circle")
    .data(s2All)
    .enter().append("circle")
    .attr("cx", function(d){ return x(d[0]); })
    .attr("cy", function(d){ return y(d[1]); })
    .attr("r", 3.7);

svg.append("g")
    .attr("fill", "#ff0000")
    .selectAll("rect")
    .data(optimal)
    .enter().append("rect")
    .attr("x", function(d){ return x(d[0]) - 4; })
    .attr("y", function(d){ return y(d[1]) - 4; })
    .attr("width", 8).attr("height", 8);

svg.append("g")
    .selectAll("path")
    .data(reference)
    .enter().append("path")
    .attr("d", "M0,-7L7,0L0,7L-7,0Z")
    .attr("fill", "#000")
    .attr("transform", function(d){ return "translate(" + x(d[0]) + "," + y(d[1]) + ")"; });

// axes
var yAxis = svg.append("g")
    .attr("transform", "translate(" + x(0) + ",0)")
    .call(d3.axisLeft(y).tickValues(yTicks).tickSize(6).tickPadding(11).tickSizeOuter(0));
var xAxis = svg.append("g")
    .attr("transform", "translate(0," + y(85) + ")")
    .call(d3.axisBottom(x).tickValues(xTicks).tickSize(6).tickPadding(18).tickSizeOuter(0));

[xAxis, yAxis].forEach(function(a){
    a.select(".domain").attr("stroke", "#000").attr("stroke-width", 1.3);
    a.selectAll(".tick line").attr("stroke", "#000").attr("stroke-width", 1.2);
    a.selectAll(".tick text").attr("fill", "#000").style("font-family", font).style("font-size", "21px");
});
xAxis.selectAll(".tick text").attr("dy", "0.35em");

// axis titles
var yTitle = svg.append("g").style("font-family", font).style("font-weight", "bold")
    .style("font-size", "27px").attr("text-anchor", "middle");
yTitle.append("text").attr("x", 250).attr("y", 30).text("Primary Energy");
var yt2 = yTitle.append("text").attr("x", 273).attr("y", 62);
yt2.append("tspan").text("[kWh/m");
yt2.append("tspan").attr("dy", -10).style("font-size", "17px").text("2");
yt2.append("tspan").attr("dy", 10).text(" per 6 months]");

var xt = svg.append("text")
    .attr("x", 713).attr("y", 656)
    .attr("text-anchor", "middle")
    .style("font-family", font).style("font-weight", "bold").style("font-size", "27px");
xt.append("tspan").text("Percentage of ");
xt.append("tspan").style("font-style", "italic").text("S");
xt.append("tspan").text("2 set-point deviations [%]");

// annotations
var note = svg.append("g").style("font-family", font).style("font-size", "26.5px").attr("fill", "#000");
note.append("text").attr("x", 23).attr("y", 158).style("font-style", "italic").text("Reference");
note.append("text").attr("x", 22).attr("y", 190).text("design");
note.append("text").attr("x", 11).attr("y", 301).style("font-style", "italic").text("Optimal solution");
note.append("text").attr("x", 11).attr("y", 332).style("font-style", "italic").text("(Max. comfort )");
note.append("text").attr("x", 11).attr("y", 531).style("font-style", "italic").text("Optimal solution");
note.append("text").attr("x", 11).attr("y", 564).style("font-style", "italic").text("(Min. Energy )");

var refPt = reference[0];
var minE = optimal[optimal.length - 1];
var arrows = [
    [172, 148, x(refPt[0]) - 7, y(refPt[1]) - 7],
    [197, 341, x(0) - 2, y(100)],
    [213, 536, x(minE[0]) - 1, 536]
];
svg.append("g").selectAll("line")
    .data(arrows)
    .enter().append("line")
    .attr("x1", function(d){ return d[0]; })
    .attr("y1", function(d){ return d[1]; })
    .attr("x2", function(d){ return d[2]; })
    .attr("y2", function(d){ return d[3]; })
    .attr("stroke", "#000").attr("stroke-width", 2)
    .attr("marker-end", "url(#head)");

// legend
var lg = svg.append("g").attr("transform", "translate(799,450)");
lg.append("rect").attr("width", 264).attr("height", 126)
    .attr("fill", "#fff").attr("stroke", "#333").attr("stroke-width", 1.3);
var rowY = [15, 46, 76, 107];
var items = lg.selectAll("g.item")
    .data(legendLabels)
    .enter().append("g")
    .attr("class", "item")
    .attr("transform", function(d, i){ return "translate(31," + rowY[i] + ")"; });
items.append("text")
    .attr("x", 13).attr("y", 7.5)
    .style("font-family", font).style("font-size", "21px")
    .text(function(d){ return d; });
d3.select(items.nodes()[0]).append("path").attr("d", "M-4.5,0H4.5M0,-4.5V4.5")
    .attr("stroke", "#808080").attr("stroke-width", 1.5);
d3.select(items.nodes()[1]).append("circle").attr("r", 3.4)
    .attr("fill", "none").attr("stroke", "#3366ff").attr("stroke-width", 1.4);
d3.select(items.nodes()[2]).append("rect").attr("x", -4.5).attr("y", -4.5)
    .attr("width", 9).attr("height", 9).attr("fill", "#ff0000");
d3.select(items.nodes()[3]).append("path").attr("d", "M0,-7L7,0L0,7L-7,0Z").attr("fill", "#000");
d3.select(items.nodes()[3]).append("text")
    .attr("x", 119).attr("y", 9.5)
    .style("font-family", font).style("font-size", "21px")
    .text("design");
</script>
</body>
</html>
